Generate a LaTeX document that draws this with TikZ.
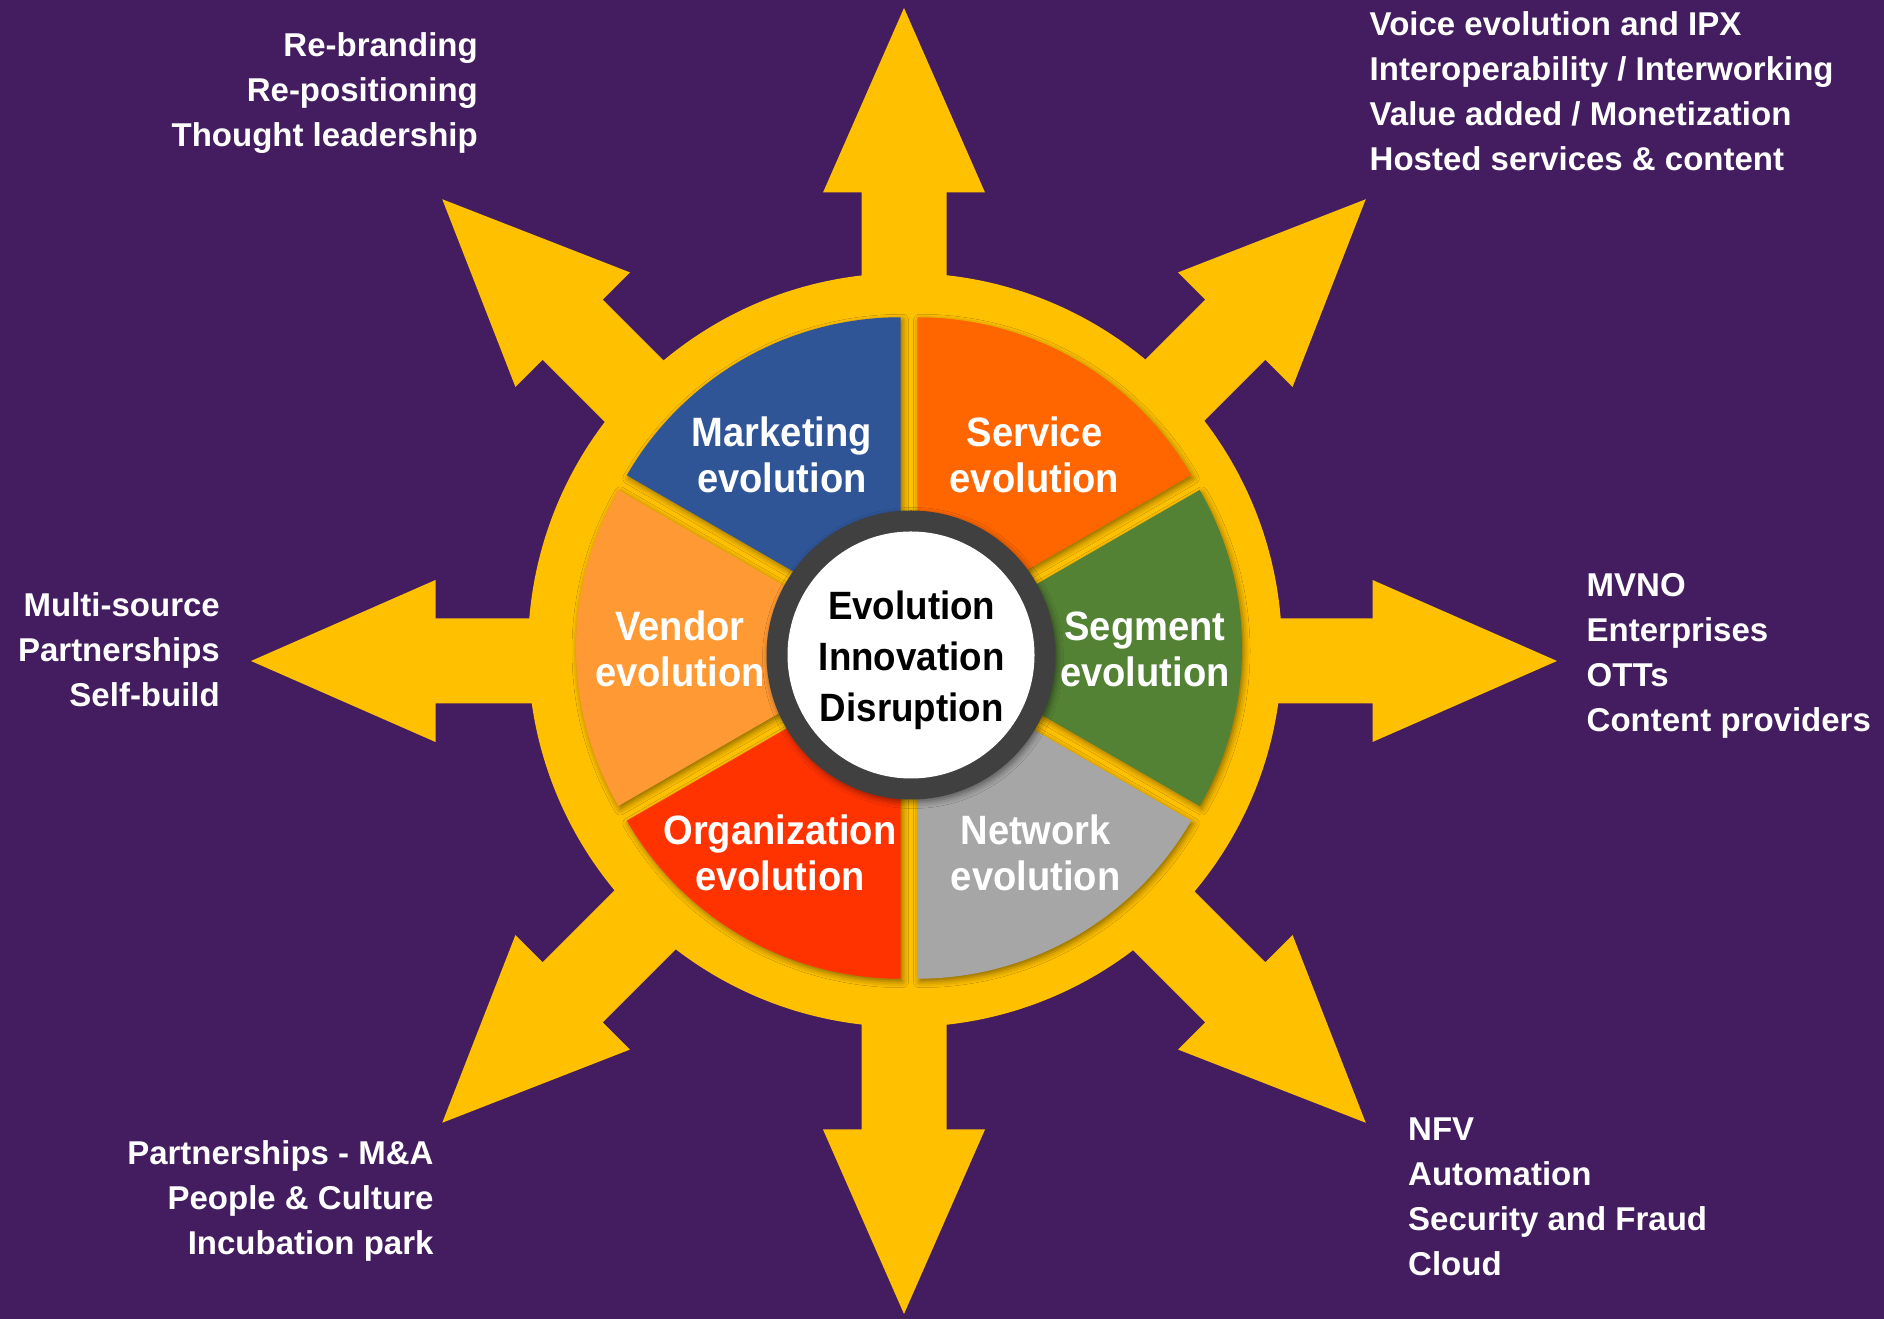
\documentclass[tikz,border=0pt]{standalone}
\usepackage{fontspec}
\newfontfamily\sidefont{Liberation Sans}
\newfontfamily\labfont{Liberation Sans}[FakeStretch=0.93]
\usetikzlibrary{shadows.blur}
\definecolor{bgpurple}{HTML}{431D5F}
\definecolor{gold}{HTML}{FFC000}
\definecolor{secblue}{HTML}{2F5597}
\definecolor{secorange}{HTML}{FF6600}
\definecolor{secgreen}{HTML}{548235}
\definecolor{secgray}{HTML}{A6A6A6}
\definecolor{secred}{HTML}{FF3300}
\definecolor{seclight}{HTML}{FF9933}
\definecolor{hubdark}{HTML}{404040}
\begin{document}
\begin{tikzpicture}[x=1pt,y=1pt,
  sidetext/.style={text=white, inner sep=0pt, font=\sidefont\bfseries\fontsize{33}{45}\selectfont},
  sectext/.style={text=white, inner sep=0pt, align=center, font=\labfont\bfseries\fontsize{41}{46}\selectfont},
  softshadow/.style={blur shadow={shadow xshift=2pt, shadow yshift=-3pt, shadow blur radius=6pt, shadow opacity=45}}
]
\useasboundingbox (0,0) rectangle (1884,1319);
\fill[bgpurple] (0,0) rectangle (1884,1319);
\coordinate (A) at (904,658);
\coordinate (R) at (905,669);
\coordinate (S) at (909,671);
\coordinate (C) at (911,664);
% arrows
\foreach \a in {0,45,...,315}{
  \fill[gold, shift={(A)}, rotate=\a] (0,-42.5) -- (468.5,-42.5) -- (468.5,-81) -- (653,0)
     -- (468.5,81) -- (468.5,42.5) -- (0,42.5) -- cycle;
}
% ring
\fill[gold] (R) circle[radius=377];
% sectors
\foreach \b/\c in {60/secorange,120/secblue,180/seclight,240/secred,300/secgray,0/secgreen}{
  \fill[\c, softshadow] ([shift={(\b:17)}]S) -- +(\b-30:316)
     arc[start angle=\b-30, end angle=\b+30, radius=316] -- cycle;
}
% hub
\node[circle, fill=hubdark, minimum size=289pt, inner sep=0pt, softshadow] (hub) at (C) {};
\node[circle, fill=white, minimum size=247pt, inner sep=0pt] (hubin) at (C) {};
\node[anchor=base, align=center, inner sep=0pt, text=black,
      font=\labfont\bfseries\fontsize{39.5}{51}\selectfont] (core) at (911.7,597)
      {Evolution\\Innovation\\Disruption};
% sector labels
\node[sectext, anchor=base] (mkt) at (782,826.5) {Marketing\\evolution};
\node[sectext, anchor=base] (svc) at (1034.5,826.5) {Service\\evolution};
\node[sectext, anchor=base] (vnd) at (680,632) {Vendor\\evolution};
\node[sectext, anchor=base] (seg) at (1145,632) {Segment\\evolution};
\node[sectext, anchor=base] (org) at (780,428) {Organization\\evolution};
\node[sectext, anchor=base] (net) at (1035.7,428) {Network\\evolution};
% side texts
\node[sidetext, anchor=base east, align=right] (tl) at (478,1172)
  {Re-branding\\Re-positioning\\Thought leadership};
\node[sidetext, anchor=base west, align=left] (tr) at (1369.5,1148)
  {Voice evolution and IPX\\Interoperability / Interworking\\Value added / Monetization\\Hosted services \& content};
\node[sidetext, anchor=base east, align=right] (ml) at (220,612.5)
  {Multi-source\\Partnerships\\Self-build};
\node[sidetext, anchor=base west, align=left] (mr) at (1586.5,587)
  {MVNO\\Enterprises\\OTTs\\Content providers};
\node[sidetext, anchor=base east, align=right] (bl) at (433.7,64)
  {Partnerships - M\&A\\People \& Culture\\Incubation park};
\node[sidetext, anchor=base west, align=left] (br) at (1408,43)
  {NFV\\Automation\\Security and Fraud\\Cloud};
\end{tikzpicture}
\end{document}
